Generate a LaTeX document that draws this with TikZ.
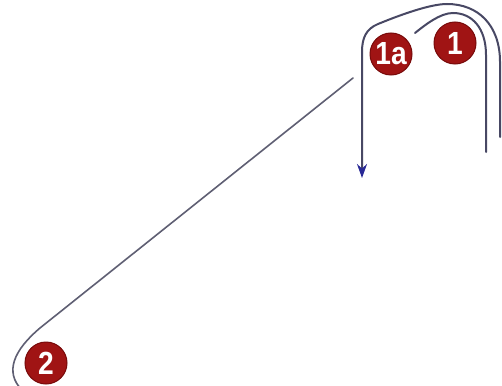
\documentclass[tikz,border=0pt]{standalone}
\usepackage{fontspec}
\setmainfont{Liberation Sans}
\newfontfamily\badgefont[FakeStretch=0.88]{Liberation Sans Bold}
\usetikzlibrary{arrows.meta}
\definecolor{linec}{RGB}{72,72,100}
\definecolor{diagc}{RGB}{95,95,115}
\definecolor{arrowc}{RGB}{40,40,150}
\definecolor{badge}{RGB}{160,20,20}
\definecolor{badgerim}{RGB}{120,10,10}
\tikzset{
  route/.style={draw=linec, line width=2pt, line cap=round},
  diagroute/.style={draw=diagc, line width=1.6pt, line cap=round},
  badgenode/.style={circle, fill=badge, draw=badgerim, line width=1pt, minimum size=42pt, inner sep=0pt,
    text=white, font=\badgefont\fontsize{32}{32}\selectfont,
    preaction={draw=white, line width=4pt}}
}
\begin{document}
\begin{tikzpicture}[x=1pt,y=-1pt]
\useasboundingbox[fill=white] (0,0) rectangle (502,385);
% named end points
\coordinate (outS) at (500,137);
\coordinate (outE) at (362,178);
\coordinate (inS) at (486,152);
\coordinate (inE) at (415,33);
\coordinate (diagS) at (353,78);
\coordinate (diagE) at (22,390);
% inner route (1)
\draw[route] (inS) -- (486,55) .. controls (486,28) and (472,13) .. (453,13)
   .. controls (440,13) and (425,25) .. (inE);
% diagonal route to 2
\draw[diagroute] (diagS) -- (40,328) .. controls (14,350) and (4,372) .. (diagE);
% outer route (1a) with arrow
\draw[route, -{Stealth[length=14pt,width=10pt,color=arrowc]}] (outS) -- (500,62)
   .. controls (500,25) and (478,4) .. (447,4)
   .. controls (430,4) and (400,15) .. (378,24)
   .. controls (366,29) and (362,38) .. (362,52) -- (outE);
% badges
\node[badgenode] (b1a) at (391,54) {1a};
\node[badgenode] (b1) at (455,43) {1};
\node[badgenode] (b2) at (46,363) {2};
\end{tikzpicture}
\end{document}
